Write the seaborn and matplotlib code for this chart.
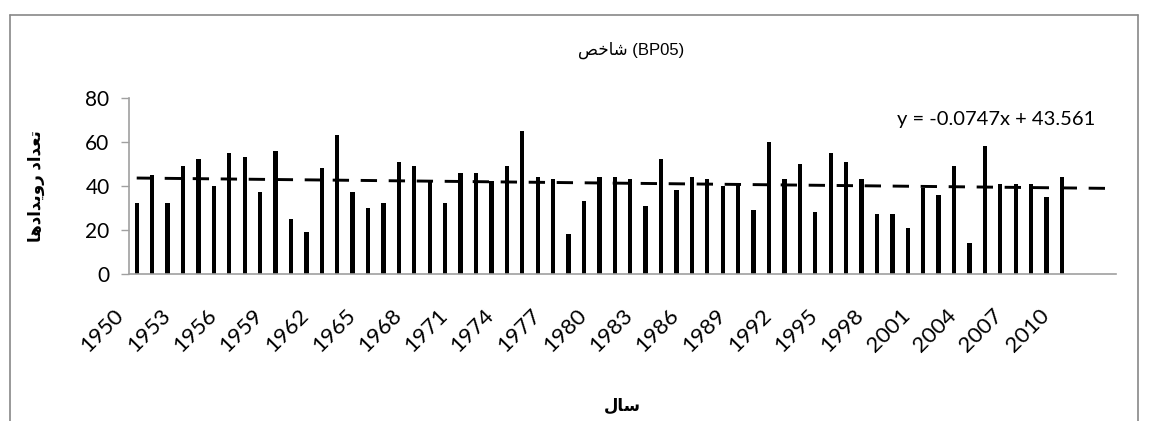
import numpy as np
import pandas as pd
import matplotlib
matplotlib.use("Agg")
import matplotlib.pyplot as plt
import matplotlib.transforms as mtransforms
from matplotlib.lines import Line2D
import seaborn as sns

# ---- data -------------------------------------------------------------
years = list(range(1950, 2011))
counts = [32, 45, 32, 49, 52, 40, 55, 53, 37, 56, 25, 19,
          48, 63, 37, 30, 32, 51, 49, 42, 32, 46, 46, 42, 49,
          65, 44, 43, 18, 33, 44, 44, 43, 31, 52, 38, 44,
          43, 40, 41, 29, 60, 43, 50, 28, 55, 51, 43, 27,
          27, 21, 39, 36, 49, 14, 58, 41, 41, 41, 35, 44]
axis_years = list(range(1950, 2014))          # category axis (last ones empty)
tick_years = list(range(1950, 2011, 3))
trend_slope = -0.0747
trend_intercept = 43.561
title_word = "شاخص"
title_code = "(BP05)"
ylabel_text = "تعداد رویدادها"
xlabel_text = "سال"

# ---- minimal Arabic-script shaping for matplotlib ----------------------
FORMS = {  # isolated, final, initial, medial
    "ا": ("\uFE8D", "\uFE8E", None, None),
    "د": ("\uFEA9", "\uFEAA", None, None),
    "ر": ("\uFEAD", "\uFEAE", None, None),
    "و": ("\uFEED", "\uFEEE", None, None),
    "ت": ("\uFE95", "\uFE96", "\uFE97", "\uFE98"),
    "ع": ("\uFEC9", "\uFECA", "\uFECB", "\uFECC"),
    "ی": ("\uFBFC", "\uFBFD", "\uFEF3", "\uFEF4"),
    "ه": ("\uFEE9", "\uFEEA", "\uFEEB", "\uFEEC"),
    "ش": ("\uFEB5", "\uFEB6", "\uFEB7", "\uFEB8"),
    "خ": ("\uFEA5", "\uFEA6", "\uFEA7", "\uFEA8"),
    "ص": ("\uFEB9", "\uFEBA", "\uFEBB", "\uFEBC"),
    "س": ("\uFEB1", "\uFEB2", "\uFEB3", "\uFEB4"),
    "ل": ("\uFEDD", "\uFEDE", "\uFEDF", "\uFEE0"),
}


def dual(c):
    return c in FORMS and FORMS[c][2] is not None


def shape(text):
    out = []
    for i, c in enumerate(text):
        if c not in FORMS:
            out.append(c)
            continue
        prev_c = text[i - 1] if i > 0 else ""
        next_c = text[i + 1] if i + 1 < len(text) else ""
        jp = dual(prev_c)
        jn = dual(c) and next_c in FORMS
        iso, fin, ini, med = FORMS[c]
        if jp and jn:
            out.append(med)
        elif jp:
            out.append(fin)
        elif jn:
            out.append(ini)
        else:
            out.append(iso)
    return "".join(out)[::-1]


# ---- figure -----------------------------------------------------------
sns.set_theme(style="white")
plt.rcParams["font.family"] = ["Lato", "DejaVu Sans"]

W, H = 1149, 421
fig = plt.figure(figsize=(W / 100, H / 100), dpi=100)
ax = fig.add_axes([129 / W, 1 - 273.7 / H, (1116 - 129) / W, (273.7 - 97.7) / H])

df = pd.DataFrame({"year": years, "count": counts})
sns.barplot(data=df, x="year", y="count", native_scale=True, color="black",
            saturation=1, width=0.28, ax=ax, edgecolor="none")

# linear trend from the fitted equation, over the whole category axis
k = np.arange(1, len(axis_years) + 1)
ax.plot(axis_years, trend_slope * k + trend_intercept, color="black",
        lw=2.1, dashes=(5.6, 4.0), dash_capstyle="butt")

ax.set_xlim(axis_years[0] - 0.5, axis_years[-1] + 0.5)
ax.set_ylim(0, 80)
ax.set_yticks(range(0, 81, 20))
ax.set_xticks(tick_years)
ax.set_xticklabels([str(y) for y in tick_years], rotation=45, ha="right",
                   va="center", rotation_mode="anchor", fontsize=16,
                   color="black")
ax.tick_params(axis="x", length=0, pad=28)
ax.tick_params(axis="y", length=6, width=1, color="#A0A0A0", pad=8,
               labelsize=15, labelcolor="black", direction="out", left=True)
shift = mtransforms.ScaledTranslation(-16 / 100, 0, fig.dpi_scale_trans)
for lab in ax.get_xticklabels():
    lab.set_transform(lab.get_transform() + shift)

for s in ("top", "right"):
    ax.spines[s].set_visible(False)
for s in ("left", "bottom"):
    ax.spines[s].set_color("#A0A0A0")
    ax.spines[s].set_linewidth(1.2)
ax.set_xlabel("")
ax.set_ylabel("")
ax.grid(False)

# titles and labels
fig.text(631 / W, 1 - 50 / H, shape(title_word) + " " + title_code,
         ha="center", va="center", fontsize=12,
         family=["Liberation Sans", "DejaVu Sans"], color="black")
fig.text(36 / W, 1 - 186 / H, shape(ylabel_text), rotation=90,
         ha="center", va="center", fontsize=12, fontweight="bold",
         family=["Liberation Sans", "DejaVu Sans"], color="black")
fig.text(622 / W, 1 - 406 / H, shape(xlabel_text), ha="center", va="center",
         fontsize=12, fontweight="bold",
         family=["Liberation Sans", "DejaVu Sans"], color="black")
fig.text(996 / W, 1 - 119 / H,
         f"y = {trend_slope}x + {trend_intercept}", ha="center", va="center",
         fontsize=14.5, color="black")

# chart-area frame
frame_kw = dict(color="#888888", lw=1.2, transform=fig.transFigure)
fig.add_artist(Line2D([10 / W, 10 / W], [0, 1 - 15 / H], **frame_kw))
fig.add_artist(Line2D([10 / W, 1138 / W], [1 - 15 / H, 1 - 15 / H], **frame_kw))
fig.add_artist(Line2D([1138 / W, 1138 / W], [0, 1 - 15 / H], **frame_kw))

fig.savefig("out.png", dpi=100, facecolor="white")
